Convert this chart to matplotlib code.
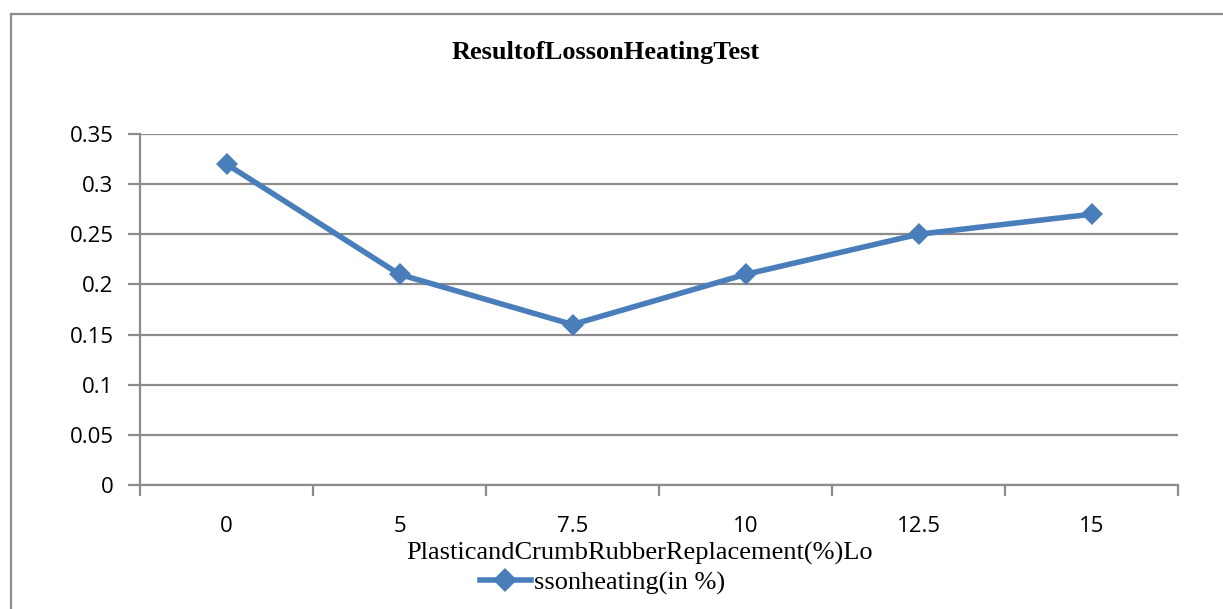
import matplotlib.pyplot as plt
from matplotlib.lines import Line2D

# data
categories = ['0', '5', '7.5', '10', '12.5', '15']
loss_on_heating = [0.32, 0.21, 0.16, 0.21, 0.25, 0.27]
y_ticks = [0, 0.05, 0.1, 0.15, 0.2, 0.25, 0.3, 0.35]
y_labels = ['0', '0.05', '0.1', '0.15', '0.2', '0.25', '0.3', '0.35']

blue = '#4a7ebb'
grid_grey = '#8c8c8c'

fig = plt.figure(figsize=(12.23, 6.09), dpi=100)
ax = fig.add_axes([140 / 1223, 1 - 485 / 609, 1038 / 1223, 351 / 609])

x = range(len(categories))
ax.plot(x, loss_on_heating, color=blue, linewidth=4, marker='D', markersize=11,
        markeredgewidth=0, clip_on=False)

ax.set_xlim(-0.5, len(categories) - 0.5)
ax.set_ylim(0, 0.35)
ax.set_yticks(y_ticks)
ax.set_yticklabels(y_labels, fontfamily='Open Sans', fontsize=16)
ax.set_xticks(list(x))
ax.set_xticklabels(categories, fontfamily='Open Sans', fontsize=16)
ax.set_xticks([i - 0.5 for i in range(len(categories) + 1)], minor=True)

ax.grid(axis='y', color=grid_grey, linewidth=1.6)
ax.set_axisbelow(True)
for side in ['top', 'right']:
    ax.spines[side].set_visible(False)
for side in ['left', 'bottom']:
    ax.spines[side].set_color(grid_grey)
    ax.spines[side].set_linewidth(1.6)

ax.tick_params(axis='y', length=9, width=1.6, color=grid_grey, pad=10)
ax.tick_params(axis='x', which='major', length=0, pad=22)
ax.tick_params(axis='x', which='minor', length=8, width=1.6, color=grid_grey)

# title, axis label and legend
fig.text(606 / 1223, 1 - 52 / 609, 'ResultofLossonHeatingTest', ha='center', va='center',
         fontfamily='Liberation Serif', fontweight='bold', fontsize=19)
fig.text(640 / 1223, 1 - 553 / 609, 'PlasticandCrumbRubberReplacement(%)Lo', ha='center',
         va='center', fontfamily='Liberation Serif', fontsize=19)
handle = Line2D([], [], color=blue, linewidth=4, marker='D', markersize=12, markeredgewidth=0)
fig.legend([handle], ['ssonheating(in %)'], loc='center', bbox_to_anchor=(603 / 1223, 1 - 583 / 609),
           frameon=False, prop={'family': 'Liberation Serif', 'size': 19},
           handlelength=1.9, handletextpad=0.15, borderpad=0)

# outer chart frame
fig.add_artist(Line2D([11 / 1223, 11 / 1223], [0, 1 - 14 / 609], color=grid_grey, linewidth=1.6))
fig.add_artist(Line2D([11 / 1223, 1], [1 - 14 / 609, 1 - 14 / 609], color=grid_grey, linewidth=1.6))

fig.savefig('out.png', dpi=100)
